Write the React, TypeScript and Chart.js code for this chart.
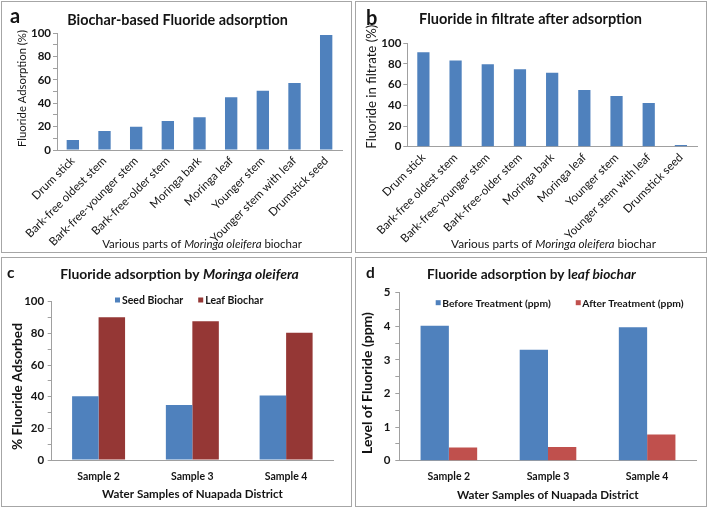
import React, { useEffect, useRef } from "react";
import { Chart, registerables } from "chart.js";
Chart.register(...registerables);

// ---------- data ----------
const partsLabels = [
  "Drum stick",
  "Bark-free oldest stem",
  "Bark-free-younger stem",
  "Bark-free-older stem",
  "Moringa bark",
  "Moringa leaf",
  "Younger stem",
  "Younger stem with leaf",
  "Drumstick seed",
];
const adsorptionValues = [8.5, 16.2, 20, 24.8, 28, 45.3, 50.8, 57.5, 98.5];
const filtrateValues = [91.3, 83.3, 79.7, 74.8, 71.6, 54.8, 49, 42.3, 1.6];

const sampleLabels = ["Sample 2", "Sample 3", "Sample 4"];
const seedBiochar = [40.2, 34.7, 40.7];
const leafBiochar = [90.1, 87.6, 80.4];
const beforeTreatment = [4.02, 3.3, 3.97];
const afterTreatment = [0.39, 0.41, 0.78];

// ---------- styles ----------
const FAMILY = "Lato, 'Noto Sans', sans-serif";
const BLUE = "#4f81bd";
const DARK_RED = "#953735";
const RED = "#c0504d";
const AXIS = "#a0a0a0";
const TEXT = "#141414";

type Seg = { text: string; size: number; weight?: string; style?: string };
type TextItem = {
  x: number;
  y: number;
  segs: Seg[];
  align?: "left" | "center";
  rotate?: boolean;
  baseline?: CanvasTextBaseline;
  fit?: number; // target rendered width (px)
};

const fontOf = (s: Seg, k = 1) =>
  `${s.style || "normal"} ${s.weight || "normal"} ${s.size * k}px ${FAMILY}`;
const f = (size: number, weight = "normal", style = "normal") =>
  `${style} ${weight} ${size}px ${FAMILY}`;

const richTextPlugin = {
  id: "richText",
  afterDraw(chart: any, _args: any, opts: any) {
    const ctx: CanvasRenderingContext2D = chart.ctx;
    const items: TextItem[] = opts.items || [];
    for (const item of items) {
      ctx.save();
      ctx.translate(item.x, item.y);
      if (item.rotate) ctx.rotate(-Math.PI / 2);
      ctx.textBaseline = item.baseline || "alphabetic";
      ctx.textAlign = "left";
      ctx.fillStyle = TEXT;
      const measure = (k: number) => {
        let t = 0;
        for (const s of item.segs) {
          ctx.font = fontOf(s, k);
          t += ctx.measureText(s.text).width;
        }
        return t;
      };
      let k = 1;
      let total = measure(1);
      if (item.fit && total > 0) {
        k = item.fit / total;
        total = measure(k);
      }
      let x = item.align === "left" ? 0 : -total / 2;
      for (const s of item.segs) {
        ctx.font = fontOf(s, k);
        ctx.fillText(s.text, x, 0);
        x += ctx.measureText(s.text).width;
      }
      ctx.restore();
    }
  },
};

const boxLegendPlugin = {
  id: "boxLegend",
  afterDraw(chart: any, _args: any, opts: any) {
    if (!opts || !opts.display) return;
    const ctx: CanvasRenderingContext2D = chart.ctx;
    ctx.save();
    ctx.font = opts.font;
    ctx.textBaseline = "middle";
    ctx.textAlign = "left";
    let x = opts.x;
    const y = opts.y;
    chart.data.datasets.forEach((ds: any) => {
      ctx.fillStyle = ds.backgroundColor;
      ctx.fillRect(x, y - opts.box / 2, opts.box, opts.box);
      x += opts.box + opts.textGap;
      ctx.fillStyle = TEXT;
      ctx.fillText(ds.label, x, y + 0.5);
      x += ctx.measureText(ds.label).width + opts.itemGap;
    });
    ctx.restore();
  },
};

function yAxis(max: number, step: number, labelEvery: number, width: number, padding: number) {
  return {
    min: 0,
    max,
    afterFit: (s: any) => {
      s.width = width;
    },
    grid: { drawOnChartArea: false, drawTicks: true, tickLength: 4, color: AXIS },
    border: { display: true, color: AXIS },
    ticks: {
      stepSize: step,
      autoSkip: false,
      padding,
      color: TEXT,
      font: { family: FAMILY, size: 11.5, weight: "bold" },
      callback: (v: any) => {
        const r = v / labelEvery;
        return Math.abs(r - Math.round(r)) < 1e-6 ? String(Math.round(v * 100) / 100) : "";
      },
    },
  };
}

function xAxisRotated(height: number) {
  return {
    afterFit: (s: any) => {
      s.height = height;
    },
    grid: { display: false, drawTicks: false },
    border: { display: true, color: AXIS },
    ticks: {
      autoSkip: false,
      minRotation: 45,
      maxRotation: 45,
      padding: 4,
      color: TEXT,
      font: { family: FAMILY, size: 11.5, weight: "normal" },
    },
  };
}

function xAxisSamples(height: number) {
  return {
    afterFit: (s: any) => {
      s.height = height;
    },
    grid: { display: false, drawTicks: false },
    border: { display: true, color: AXIS },
    ticks: {
      autoSkip: false,
      maxRotation: 0,
      padding: 10,
      color: TEXT,
      font: { family: FAMILY, size: 10.5, weight: "bold" },
    },
  };
}

function baseOptions(pad: { top: number; right: number }, texts: TextItem[], legend?: any) {
  return {
    responsive: false,
    animation: false as const,
    layout: { padding: { left: 0, top: pad.top, right: pad.right, bottom: 0 } },
    plugins: {
      legend: { display: false },
      tooltip: { enabled: false },
      title: { display: false },
      richText: { items: texts },
      boxLegend: legend || { display: false },
    },
  };
}

const variousParts = (size: number): Seg[] => [
  { text: "Various parts of ", size },
  { text: "Moringa oleifera", size, style: "italic" },
  { text: " biochar", size },
];

const configs: (() => any)[] = [
  // a
  () => ({
    type: "bar",
    data: {
      labels: partsLabels,
      datasets: [
        {
          label: "Fluoride Adsorption (%)",
          data: adsorptionValues,
          backgroundColor: BLUE,
          barPercentage: 0.39,
          categoryPercentage: 1,
        },
      ],
    },
    options: {
      ...baseOptions({ top: 31.3, right: 9 }, [
        { x: 8, y: 21, align: "left", segs: [{ text: "a", size: 20, weight: "bold" }] },
        { x: 175.5, y: 23, fit: 221, segs: [{ text: "Biochar-based Fluoride adsorption", size: 15, weight: "bold" }] },
        { x: 20, y: 86.5, fit: 117, rotate: true, baseline: "middle", segs: [{ text: "Fluoride Adsorption (%)", size: 12 }] },
        { x: 200, y: 246.3, fit: 200, segs: variousParts(11.8) },
      ]),
      scales: { x: xAxisRotated(102), y: yAxis(100, 10, 20, 55, 2) },
    },
    plugins: [richTextPlugin, boxLegendPlugin],
  }),
  // b
  () => ({
    type: "bar",
    data: {
      labels: partsLabels,
      datasets: [
        {
          label: "Fluoride in filtrate (%)",
          data: filtrateValues,
          backgroundColor: BLUE,
          barPercentage: 0.38,
          categoryPercentage: 1,
        },
      ],
    },
    options: {
      ...baseOptions({ top: 41.3, right: 9 }, [
        { x: 10, y: 23, align: "left", segs: [{ text: "b", size: 20, weight: "bold" }] },
        { x: 174.5, y: 22, fit: 223, segs: [{ text: "Fluoride in filtrate after adsorption", size: 15, weight: "bold" }] },
        { x: 16, y: 84.7, fit: 124, rotate: true, baseline: "middle", segs: [{ text: "Fluoride in filtrate (%)", size: 12 }] },
        { x: 197.5, y: 246.3, fit: 205, segs: variousParts(11.8) },
      ]),
      scales: { x: xAxisRotated(105.3), y: yAxis(100, 20, 20, 51.3, 2) },
    },
    plugins: [richTextPlugin, boxLegendPlugin],
  }),
  // c
  () => ({
    type: "bar",
    data: {
      labels: sampleLabels,
      datasets: [
        { label: "Seed Biochar", data: seedBiochar, backgroundColor: BLUE, barPercentage: 1, categoryPercentage: 0.565 },
        { label: "Leaf Biochar", data: leafBiochar, backgroundColor: DARK_RED, barPercentage: 1, categoryPercentage: 0.565 },
      ],
    },
    options: {
      ...baseOptions(
        { top: 43.7, right: 18 },
        [
          { x: 5, y: 19.7, align: "left", segs: [{ text: "c", size: 15.5, weight: "bold" }] },
          {
            x: 177.5,
            y: 21,
            fit: 239,
            segs: [
              { text: "Fluoride adsorption by ", size: 15, weight: "bold" },
              { text: "Moringa oleifera", size: 15, weight: "bold", style: "italic" },
            ],
          },
          { x: 15.5, y: 128.5, fit: 127, rotate: true, baseline: "middle", segs: [{ text: "% Fluoride Adsorbed", size: 13.5, weight: "bold" }] },
          { x: 190.5, y: 240.3, fit: 181, segs: [{ text: "Water Samples of Nuapada District", size: 11.8, weight: "bold" }] },
        ],
        { display: true, x: 113, y: 42, box: 5, textGap: 2, itemGap: 15, font: f(10.5, "bold") }
      ),
      scales: { x: xAxisSamples(46), y: yAxis(100, 10, 20, 49.7, 3.5) },
    },
    plugins: [richTextPlugin, boxLegendPlugin],
  }),
  // d
  () => ({
    type: "bar",
    data: {
      labels: sampleLabels,
      datasets: [
        { label: "Before Treatment (ppm)", data: beforeTreatment, backgroundColor: BLUE, barPercentage: 1, categoryPercentage: 0.571 },
        { label: "After Treatment (ppm)", data: afterTreatment, backgroundColor: RED, barPercentage: 1, categoryPercentage: 0.571 },
      ],
    },
    options: {
      ...baseOptions(
        { top: 34.7, right: 9.3 },
        [
          { x: 10, y: 19.7, align: "left", segs: [{ text: "d", size: 15.5, weight: "bold" }] },
          {
            x: 175.5,
            y: 21,
            fit: 209,
            segs: [
              { text: "Fluoride adsorption by l", size: 15, weight: "bold" },
              { text: "eaf biochar", size: 15, weight: "bold", style: "italic" },
            ],
          },
          { x: 11, y: 125, fit: 142, rotate: true, baseline: "middle", segs: [{ text: "Level of Fluoride (ppm)", size: 13, weight: "bold" }] },
          { x: 191.8, y: 241.3, fit: 182, segs: [{ text: "Water Samples of Nuapada District", size: 11.8, weight: "bold" }] },
        ],
        { display: true, x: 79.7, y: 44.7, box: 5, textGap: 1.5, itemGap: 25, font: f(10.3, "bold") }
      ),
      scales: { x: xAxisSamples(45.3), y: yAxis(5, 0.5, 1, 43.3, 5) },
    },
    plugins: [richTextPlugin, boxLegendPlugin],
  }),
];

const boxes = [
  { left: 1, top: 1, w: 351, h: 252 },
  { left: 355, top: 1, w: 352, h: 252 },
  { left: 1, top: 257, w: 351, h: 250 },
  { left: 355, top: 257, w: 352, h: 250 },
];

function Panel({ index }: { index: number }) {
  const ref = useRef<HTMLCanvasElement>(null);
  const b = boxes[index];
  useEffect(() => {
    if (!ref.current) return;
    const chart = new Chart(ref.current, configs[index]());
    return () => chart.destroy();
  }, [index]);
  return (
    <div
      style={{
        position: "absolute",
        left: b.left,
        top: b.top,
        width: b.w,
        height: b.h,
        border: "1px solid #a6a6a6",
        boxSizing: "border-box",
        background: "#fff",
      }}
    >
      <canvas ref={ref} width={b.w - 2} height={b.h - 2} style={{ display: "block", width: b.w - 2, height: b.h - 2 }} />
    </div>
  );
}

export default function App() {
  return (
    <div style={{ position: "absolute", left: 0, top: 0, width: 709, height: 511, background: "#fff", overflow: "hidden" }}>
      {[0, 1, 2, 3].map((i) => (
        <Panel key={i} index={i} />
      ))}
    </div>
  );
}
